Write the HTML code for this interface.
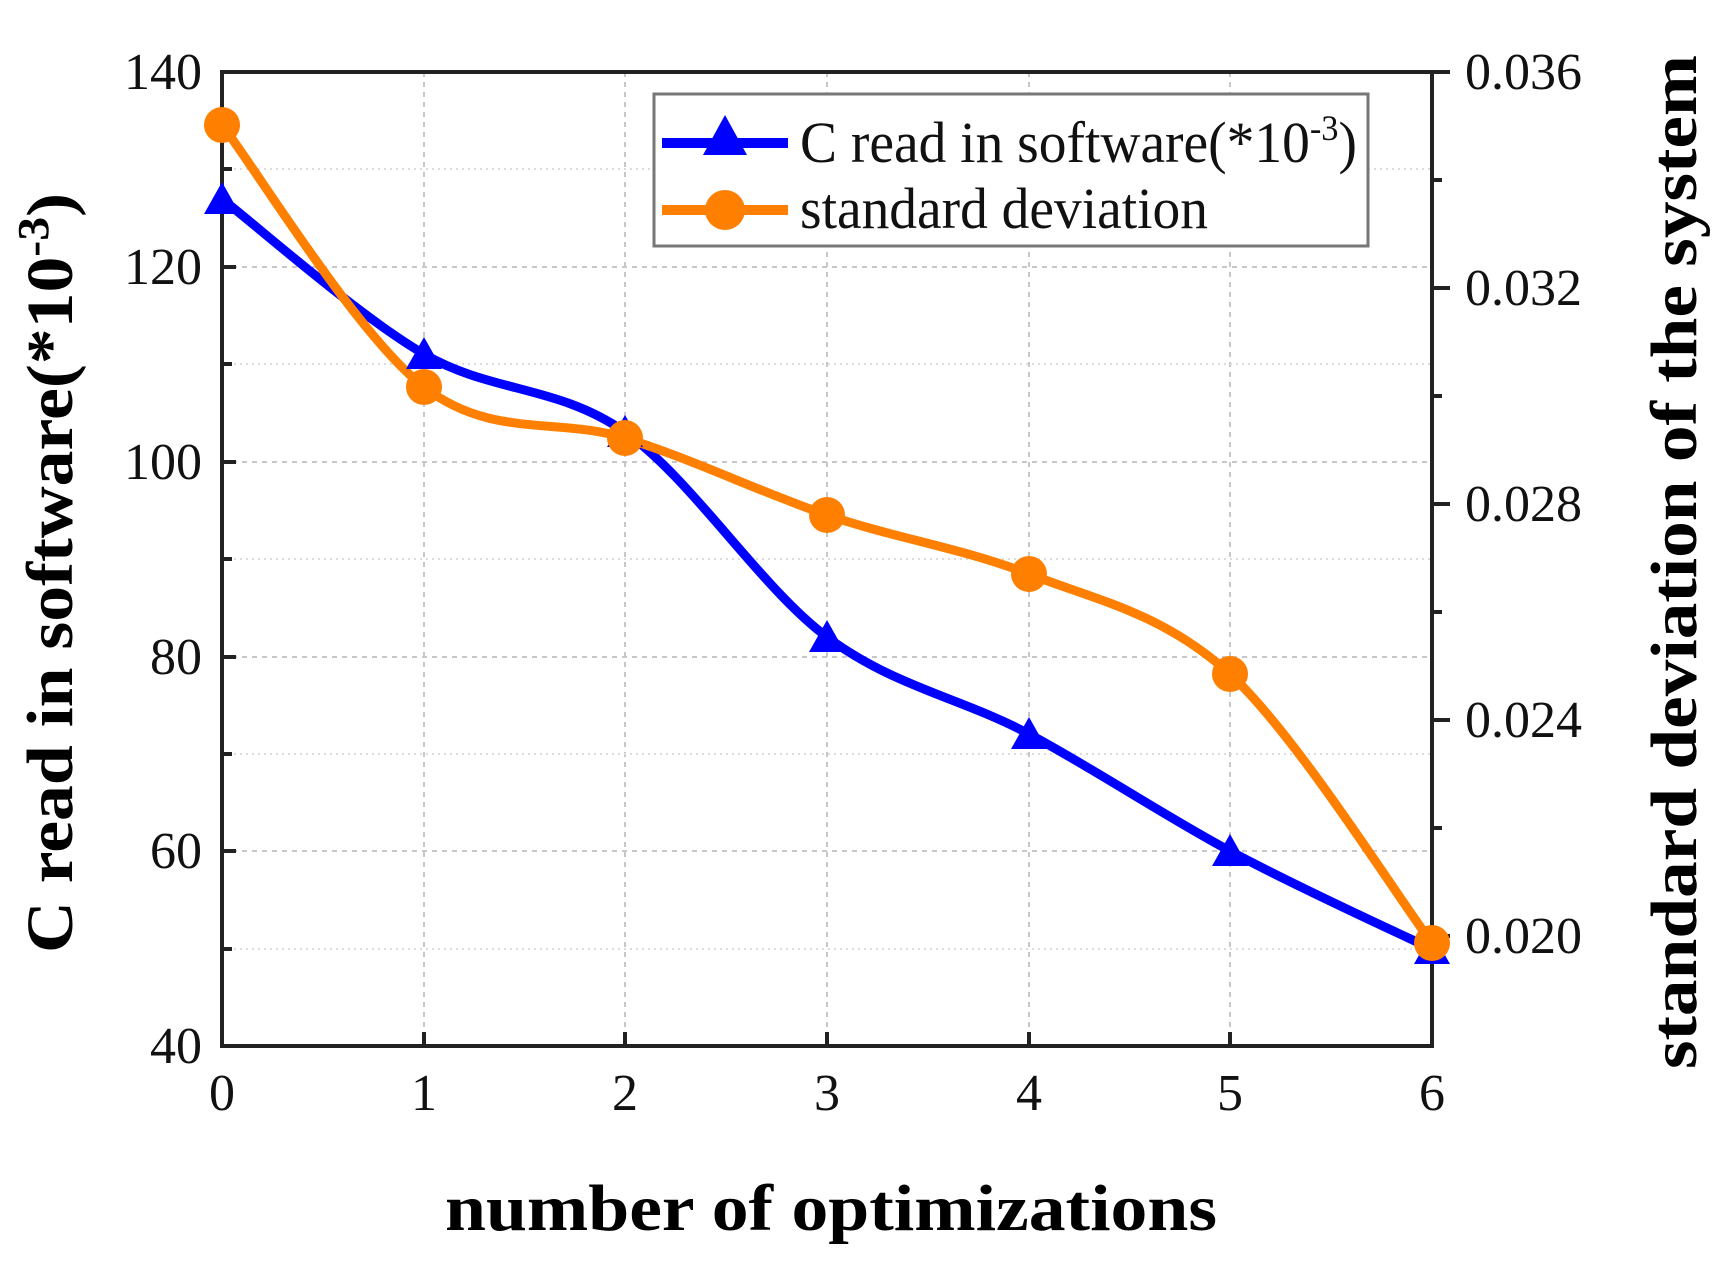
<!DOCTYPE html>
<html><head><meta charset="utf-8"><style>html,body{margin:0;padding:0;background:#fff}</style></head>
<body>
<svg width="1729" height="1256" viewBox="0 0 1729 1256" xmlns="http://www.w3.org/2000/svg" font-family="Liberation Serif, serif">
<g stroke="#c8c8c8" stroke-width="2" stroke-dasharray="5,5" fill="none">
<line x1="424" y1="72" x2="424" y2="1046"/><line x1="625" y1="72" x2="625" y2="1046"/><line x1="827" y1="72" x2="827" y2="1046"/><line x1="1029" y1="72" x2="1029" y2="1046"/><line x1="1230" y1="72" x2="1230" y2="1046"/>
<line x1="222" y1="267" x2="1432" y2="267"/><line x1="222" y1="462" x2="1432" y2="462"/><line x1="222" y1="657" x2="1432" y2="657"/><line x1="222" y1="851" x2="1432" y2="851"/>
</g>
<g stroke="#dcdcdc" stroke-width="2" stroke-dasharray="2,4" fill="none">
<line x1="222" y1="169" x2="1432" y2="169"/><line x1="222" y1="364" x2="1432" y2="364"/><line x1="222" y1="559" x2="1432" y2="559"/><line x1="222" y1="754" x2="1432" y2="754"/><line x1="222" y1="949" x2="1432" y2="949"/>
</g>
<rect x="222" y="72" width="1210" height="974" fill="none" stroke="#222" stroke-width="4"/>
<g stroke="#222" stroke-width="4">
<line x1="222" y1="169" x2="232" y2="169"/><line x1="222" y1="267" x2="236" y2="267"/><line x1="222" y1="364" x2="232" y2="364"/><line x1="222" y1="462" x2="236" y2="462"/><line x1="222" y1="559" x2="232" y2="559"/><line x1="222" y1="657" x2="236" y2="657"/><line x1="222" y1="754" x2="232" y2="754"/><line x1="222" y1="851" x2="236" y2="851"/><line x1="222" y1="949" x2="232" y2="949"/>
<line x1="424" y1="1046" x2="424" y2="1032"/><line x1="625" y1="1046" x2="625" y2="1032"/><line x1="827" y1="1046" x2="827" y2="1032"/><line x1="1029" y1="1046" x2="1029" y2="1032"/><line x1="1230" y1="1046" x2="1230" y2="1032"/>
<line x1="1432" y1="72" x2="1450" y2="72"/><line x1="1432" y1="180" x2="1442" y2="180"/><line x1="1432" y1="288" x2="1450" y2="288"/><line x1="1432" y1="396" x2="1442" y2="396"/><line x1="1432" y1="504" x2="1450" y2="504"/><line x1="1432" y1="612" x2="1442" y2="612"/><line x1="1432" y1="720" x2="1450" y2="720"/><line x1="1432" y1="828" x2="1442" y2="828"/><line x1="1432" y1="936" x2="1450" y2="936"/>
</g>
<g font-size="52" text-anchor="end" fill="#111">
<text x="202" y="89">140</text><text x="202" y="284">120</text><text x="202" y="479">100</text><text x="202" y="674">80</text><text x="202" y="868">60</text><text x="202" y="1063">40</text>
</g>
<g font-size="52" text-anchor="start" fill="#111">
<text x="1465" y="89">0.036</text><text x="1465" y="305">0.032</text><text x="1465" y="521">0.028</text><text x="1465" y="737">0.024</text><text x="1465" y="953">0.020</text>
</g>
<g font-size="52" text-anchor="middle" fill="#111">
<text x="222" y="1110">0</text><text x="424" y="1110">1</text><text x="625" y="1110">2</text><text x="827" y="1110">3</text><text x="1029" y="1110">4</text><text x="1230" y="1110">5</text><text x="1432" y="1110">6</text>
</g>
<text x="831" y="1230" font-size="66" font-weight="bold" text-anchor="middle" textLength="772" lengthAdjust="spacingAndGlyphs">number of optimizations</text>
<text transform="translate(72,573) rotate(-90)" font-size="66" font-weight="bold" text-anchor="middle" textLength="760" lengthAdjust="spacingAndGlyphs">C read in software(*10<tspan dy="-24" font-size="44">-3</tspan><tspan dy="24">)</tspan></text>
<text transform="translate(1696,562) rotate(-90)" font-size="66" font-weight="bold" text-anchor="middle" textLength="1014" lengthAdjust="spacingAndGlyphs">standard deviation of the system</text>
<path d="M222,199 C256,225 357,315 424,354 C491,393 558,385 625,432 C692,479 760,587 827,637 C894,687 962,698 1029,734 C1096,770 1163,815 1230,851 C1297,887 1398,933 1432,949" fill="none" stroke="#0000ff" stroke-width="9"/>
<path d="M222,125 C256,169 357,335 424,387 C491,439 558,417 625,438 C692,459 760,492 827,515 C894,538 962,548 1029,574 C1096,600 1163,613 1230,674 C1297,736 1398,898 1432,943" fill="none" stroke="#ff8000" stroke-width="9"/>
<g fill="#0000ff">
<polygon points="222,182 204,214 240,214"/><polygon points="424,337 406,369 442,369"/><polygon points="625,415 607,447 643,447"/><polygon points="827,620 809,652 845,652"/><polygon points="1029,717 1011,749 1047,749"/><polygon points="1230,834 1212,866 1248,866"/><polygon points="1432,932 1414,964 1450,964"/>
</g>
<g fill="#ff8000">
<circle cx="222" cy="125" r="18"/><circle cx="424" cy="387" r="18"/><circle cx="625" cy="438" r="18"/><circle cx="827" cy="515" r="18"/><circle cx="1029" cy="574" r="18"/><circle cx="1230" cy="674" r="18"/><circle cx="1432" cy="943" r="18"/>
</g>
<rect x="654" y="94" width="714" height="152" fill="#fff" stroke="#777" stroke-width="3"/>
<line x1="662" y1="143" x2="788" y2="143" stroke="#0000ff" stroke-width="10"/>
<polygon points="725,115 703,155 747,155" fill="#0000ff"/>
<line x1="662" y1="210" x2="788" y2="210" stroke="#ff8000" stroke-width="10"/>
<circle cx="725" cy="210" r="20" fill="#ff8000"/>
<text x="800" y="162" font-size="58" fill="#111" textLength="557" lengthAdjust="spacingAndGlyphs">C read in software(*10<tspan dy="-22" font-size="36">-3</tspan><tspan dy="22">)</tspan></text>
<text x="800" y="228" font-size="58" fill="#111" textLength="408" lengthAdjust="spacingAndGlyphs">standard deviation</text>
</svg>
</body></html>
